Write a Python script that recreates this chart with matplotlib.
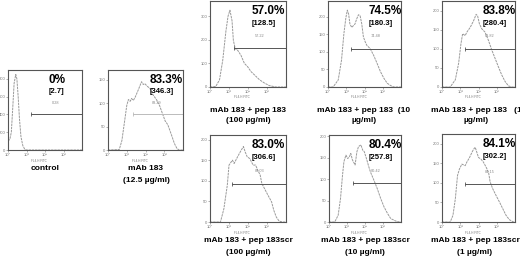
import matplotlib.pyplot as plt

plt.rcParams['font.family'] = ['Liberation Sans', 'DejaVu Sans']

# histogram outlines: x in log decades (10^0 .. 10^4), y in events
ctrl_dec = [0, 0.1, 0.18, 0.25, 0.33, 0.42, 0.48, 0.55, 0.62, 0.7, 0.8, 0.9, 1.0, 4.0]
ctrl_cnt = [100, 120, 200, 450, 750, 850, 800, 600, 350, 150, 50, 10, 0, 0]

mab_dec = [0, 0.6, 0.74, 0.88, 1.0, 1.09, 1.18, 1.26, 1.35, 1.44, 1.61, 1.79, 1.88, 1.96,
           2.1, 2.23, 2.4, 2.58, 2.75, 2.93, 3.05, 3.19, 3.37, 3.54, 3.68, 3.8, 4.0]
mab_cnt = [0, 1, 20, 60, 95, 108, 104, 110, 106, 112, 128, 146, 140, 142,
           136, 132, 118, 108, 95, 75, 62, 54, 34, 14, 3, 0, 0]

pep100_dec = [0, 0.3, 0.5, 0.67, 0.84, 0.95, 1.05, 1.16, 1.23, 1.33, 1.46, 1.63, 1.81,
              1.98, 2.16, 2.33, 2.6, 2.86, 3.12, 3.47, 4.0]
pep100_cnt = [0, 2, 30, 113, 238, 300, 325, 280, 197, 162, 155, 134, 100,
              86, 65, 52, 31, 17, 6, 0, 0]

pep10_dec = [0, 0.28, 0.56, 0.74, 0.87, 0.98, 1.06, 1.13, 1.2, 1.3, 1.39, 1.48, 1.57, 1.67,
             1.76, 1.85, 1.94, 2.04, 2.13, 2.31, 2.5, 2.69, 2.87, 3.06, 3.24, 3.43, 3.61, 4.0]
pep10_cnt = [0, 0, 20, 76, 151, 197, 218, 207, 179, 169, 174, 179, 193, 205,
             202, 179, 142, 128, 118, 109, 90, 67, 44, 25, 11, 4, 0, 0]

pep1_dec = [0, 0.45, 0.73, 0.91, 1.04, 1.13, 1.27, 1.36, 1.55, 1.73, 1.87, 1.95, 2.05, 2.18,
            2.36, 2.55, 2.73, 2.91, 3.09, 3.27, 3.45, 3.64, 3.82, 4.0]
pep1_cnt = [0, 0, 19, 62, 114, 140, 135, 144, 157, 174, 191, 187, 166, 153,
            144, 122, 97, 75, 53, 32, 15, 3, 0, 0]

scr100_dec = [0, 0.55, 0.73, 0.91, 1.0, 1.18, 1.27, 1.45, 1.64, 1.76, 1.85, 1.96, 2.09, 2.27,
              2.4, 2.51, 2.64, 2.73, 2.87, 3.05, 3.24, 3.36, 3.49, 3.64, 3.82, 4.0]
scr100_cnt = [0, 0, 32, 89, 138, 150, 142, 158, 174, 183, 170, 158, 154, 138,
              138, 126, 114, 93, 81, 65, 49, 28, 12, 2, 0, 0]

scr10_dec = [0, 0.32, 0.51, 0.64, 0.75, 0.83, 0.94, 1.04, 1.13, 1.21, 1.3, 1.45, 1.55, 1.64,
             1.77, 1.87, 1.96, 2.08, 2.21, 2.3, 2.49, 2.68, 2.87, 3.06, 3.25, 3.43, 3.72, 3.91, 4.0]
scr10_cnt = [0, 0, 16, 55, 109, 141, 156, 148, 152, 160, 145, 133, 164, 176,
             180, 168, 164, 148, 129, 117, 98, 78, 55, 35, 20, 8, 2, 0, 0]

scr1_dec = [0, 0.45, 0.6, 0.73, 0.85, 0.96, 1.09, 1.27, 1.36, 1.51, 1.64, 1.73, 1.82, 1.91,
            2.0, 2.13, 2.27, 2.42, 2.55, 2.64, 2.78, 2.96, 3.15, 3.33, 3.51, 3.69, 3.91, 4.0]
scr1_cnt = [0, 0, 17, 59, 119, 136, 148, 144, 153, 165, 178, 186, 191, 178,
            165, 161, 153, 140, 127, 102, 85, 68, 51, 34, 17, 6, 0, 0]

curves_dec = [ctrl_dec, mab_dec, pep100_dec, pep10_dec, pep1_dec, scr100_dec, scr10_dec, scr1_dec]
curves_cnt = [ctrl_cnt, mab_cnt, pep100_cnt, pep10_cnt, pep1_cnt, scr100_cnt, scr10_cnt, scr1_cnt]

pct_labels = ['0%', '83.3%', '57.0%', '74.5%', '83.8%', '83.0%', '80.4%', '84.1%']
mfi_labels = ['[2.7]', '[346.3]', '[128.5]', '[180.3]', '[280.4]', '[306.6]', '[257.8]', '[302.2]']
gate_text = ['0.28', '83.29', '57.22', '74.48', '83.82', '83.03', '80.42', '84.15']
gate_start = [1.27, 1.32, 1.28, 1.24, 1.27, 1.18, 1.32, 1.27]
gate_level = [400, 76, 163, 109, 101, 93, 90, 97]
y_max = [900, 171, 364, 244, 226, 211, 203, 225]
y_ticks = [[0, 200, 400, 600, 800], [0, 50, 100, 150], [0, 100, 200, 300],
           [0, 50, 100, 150, 200], [0, 50, 100, 150, 200], [0, 50, 100, 150, 200],
           [0, 50, 100, 150, 200], [0, 50, 100, 150, 200]]
x_tick_labels = ['10⁰', '10¹', '10²', '10³']
titles = [['control'], ['mAb 183', '(12.5 µg/ml)'],
          ['mAb 183 + pep 183', '(100 µg/ml)'],
          ['mAb 183 + pep 183  (10', 'µg/ml)'],
          ['mAb 183 + pep 183   (1', 'µg/ml)'],
          ['mAb 183 + pep 183scr', '(100 µg/ml)'],
          ['mAb 183 + pep 183scr', '(10 µg/ml)'],
          ['mAb 183 + pep 183scr', '(1 µg/ml)']]

# panel boxes in pixels: left, top, right, bottom; title centre x, y
W, H = 520, 258
boxes = [(8, 70, 82, 150), (108, 70, 183, 150),
         (210, 1, 286, 87), (328, 1, 401, 87), (442, 1, 515, 87),
         (210, 135, 286, 222), (329, 135, 401, 222), (442, 134, 515, 222)]
title_x = [45, 146, 248, 364, 476, 248, 365, 475]
title_y = [169, 169, 110, 110, 110, 241, 241, 241]

fig = plt.figure(figsize=(W / 100, H / 100), dpi=100)

for i, (x0, y0, x1, y1) in enumerate(boxes):
    ax = fig.add_axes([x0 / W, 1 - y1 / H, (x1 - x0) / W, (y1 - y0) / H])
    xs = [10 ** d for d in curves_dec[i]]
    ax.plot(xs, curves_cnt[i], color='#9a9a9a', lw=0.7, dashes=(2.5, 0.8))
    ax.set_xscale('log')
    ax.set_xlim(1, 1e4)
    ax.set_ylim(0, y_max[i])
    ax.set_xticks([1, 10, 100, 1000])
    ax.set_xticklabels(x_tick_labels)
    ax.minorticks_off()
    ax.set_yticks(y_ticks[i])
    ax.tick_params(labelsize=3, colors='#777', length=1.5, width=0.4, pad=0.5)
    # small channel name under the tick labels
    ax.text(0.42, -10.5 / (y1 - y0), 'FL4-H FITC', transform=ax.transAxes,
            fontsize=2.2, color='#777', ha='center', va='center')
    for sp in ax.spines.values():
        sp.set_linewidth(0.8)
        sp.set_color('#555')

    # marker gate
    gcol = '#bbbbbb' if i == 1 else '#555555'
    gx = [10 ** gate_start[i], 1e4]
    ax.plot(gx, [gate_level[i]] * 2, color=gcol, lw=0.7, clip_on=False)
    ax.plot(gx, [gate_level[i]] * 2, ls='none', marker='|', ms=3, mew=0.6,
            color=gcol, clip_on=False)
    ax.text(10 ** 2.6, gate_level[i] + y_max[i] * 0.12, gate_text[i],
            fontsize=2.8, color='#888', ha='center', va='bottom')

    ax.text(0.55, 0.95, pct_labels[i], transform=ax.transAxes, ha='left', va='top',
            fontsize=8.5, weight='bold')
    ax.text(0.55, 0.78, mfi_labels[i], transform=ax.transAxes, ha='left', va='top',
            fontsize=5.5, weight='bold')

    for k, line in enumerate(titles[i]):
        fig.text(title_x[i] / W, 1 - (title_y[i] + 11 * k) / H, line, ha='center',
                 va='center', fontsize=6, weight='bold')

fig.savefig('out.png', dpi=100)
